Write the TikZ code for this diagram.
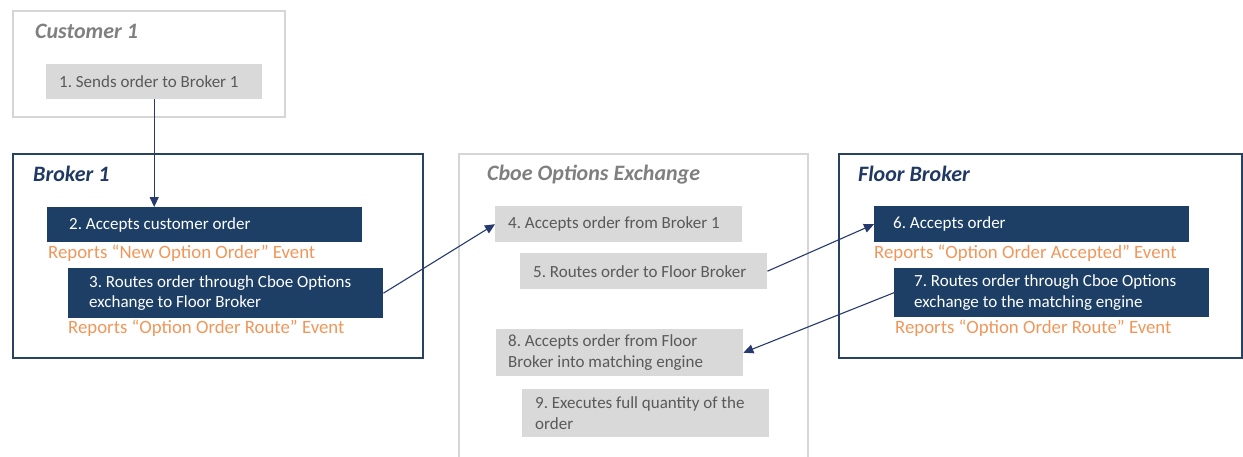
\documentclass[tikz,border=0pt]{standalone}
\usepackage{fontspec}
\setmainfont{Carlito}
\definecolor{cbnavy}{RGB}{29,63,102}
\definecolor{cbframe}{RGB}{40,66,99}
\definecolor{cbline}{RGB}{38,58,110}
\definecolor{cbgrayline}{RGB}{214,214,214}
\definecolor{cbgrayfill}{RGB}{217,217,217}
\definecolor{cbgraytext}{RGB}{89,89,89}
\definecolor{cbgraytitle}{RGB}{127,127,127}
\definecolor{cbtitle}{RGB}{31,56,100}
\definecolor{cborange}{RGB}{240,150,90}
\usetikzlibrary{arrows.meta,positioning}
\frenchspacing

\begin{document}
\begin{tikzpicture}[x=1pt,y=-1pt,font=\fontsize{17}{20.5}\selectfont,
  frame/.style={draw=#1,line width=1.6pt,anchor=north west,inner sep=0pt},
  title/.style={font=\fontsize{22}{26}\selectfont\bfseries\itshape,anchor=west,inner sep=0pt},
  graybox/.style={fill=cbgrayfill,anchor=north west,minimum width=247pt,inner sep=0pt},
  navybox/.style={fill=cbnavy,anchor=north west,minimum width=315pt,inner sep=0pt},
  steptext/.style={anchor=west,align=left,inner sep=0pt},
  report/.style={text=cborange,anchor=west,inner sep=0pt,font=\fontsize{18.8}{22}\selectfont},
  flow/.style={draw=cbline,line width=1.1pt,-{Triangle[length=10pt,width=9pt]}}]
  \useasboundingbox (0,0) rectangle (1243,456);
  % the four parties
  \node[frame=cbgrayline,minimum width=272pt,minimum height=106pt] (cust) at (12,10) {};
  \node[frame=cbframe,minimum width=410pt,minimum height=204pt] (brk) at (12,153) {};
  \node[frame=cbgrayline,minimum width=349pt,minimum height=312pt] (cboe) at (458,153) {};
  \node[frame=cbframe,minimum width=403pt,minimum height=204pt] (flr) at (838,153) {};
  \node[title,text=cbgraytitle] (custT) at (35,31) {Customer 1};
  \node[title,text=cbtitle] (brkT) at (33,174) {Broker 1};
  \node[title,text=cbgraytitle] (cboeT) at (487,175) {Cboe Options Exchange};
  \node[title,text=cbtitle] (flrT) at (858,174) {Floor Broker};
  % steps
  \node[graybox,minimum width=216pt,minimum height=35pt] (s1) at (46,64) {};
  \node[steptext,text=cbgraytext] (t1) at ([xshift=13pt]s1.west) {1. Sends order to Broker 1};
  \node[navybox,minimum height=35pt] (s2) at (47,207) {};
  \node[steptext,text=white] (t2) at ([xshift=22pt]s2.west) {2. Accepts customer order};
  \node[report] (r2) at (48,253) {Reports “New Option Order” Event};
  \node[navybox,minimum height=50pt] (s3) at (68,268) {};
  \node[steptext,text=white] (t3) at ([xshift=21pt]s3.west) {3. Routes order through Cboe Options\\exchange to Floor Broker};
  \node[report] (r3) at (68,328) {Reports “Option Order Route” Event};
  \node[graybox,minimum height=36pt] (s4) at (495,206) {};
  \node[steptext,text=cbgraytext] (t4) at ([xshift=13pt]s4.west) {4. Accepts order from Broker 1};
  \node[graybox,minimum height=36pt] (s5) at (520,253) {};
  \node[steptext,text=cbgraytext] (t5) at ([xshift=13pt]s5.west) {5. Routes order to Floor Broker};
  \node[navybox,minimum height=36pt] (s6) at (874,206) {};
  \node[steptext,text=white] (t6) at ([xshift=19pt]s6.west) {6. Accepts order};
  \node[report] (r6) at (874,253) {Reports “Option Order Accepted” Event};
  \node[navybox,minimum height=49pt] (s7) at (894,268) {};
  \node[steptext,text=white] (t7) at ([xshift=20pt]s7.west) {7. Routes order through Cboe Options\\exchange to the matching engine};
  \node[report] (r7) at (895,328) {Reports “Option Order Route” Event};
  \node[graybox,minimum height=47pt] (s8) at (496,329) {};
  \node[steptext,text=cbgraytext] (t8) at ([xshift=12pt]s8.west) {8. Accepts order from Floor\\Broker into matching engine};
  \node[graybox,minimum height=48pt] (s9) at (522,389) {};
  \node[steptext,text=cbgraytext] (t9) at ([xshift=13pt]s9.west) {9. Executes full quantity of the\\order};
  % order flow
  \draw[flow] (s1.south) -- (s1.south |- s2.north);
  \draw[flow] (s3.east) -- (s4.west);
  \draw[flow] (s5.east) -- (s6.west);
  \draw[flow] (s7.west) -- (s8.east);
\end{tikzpicture}
\end{document}
